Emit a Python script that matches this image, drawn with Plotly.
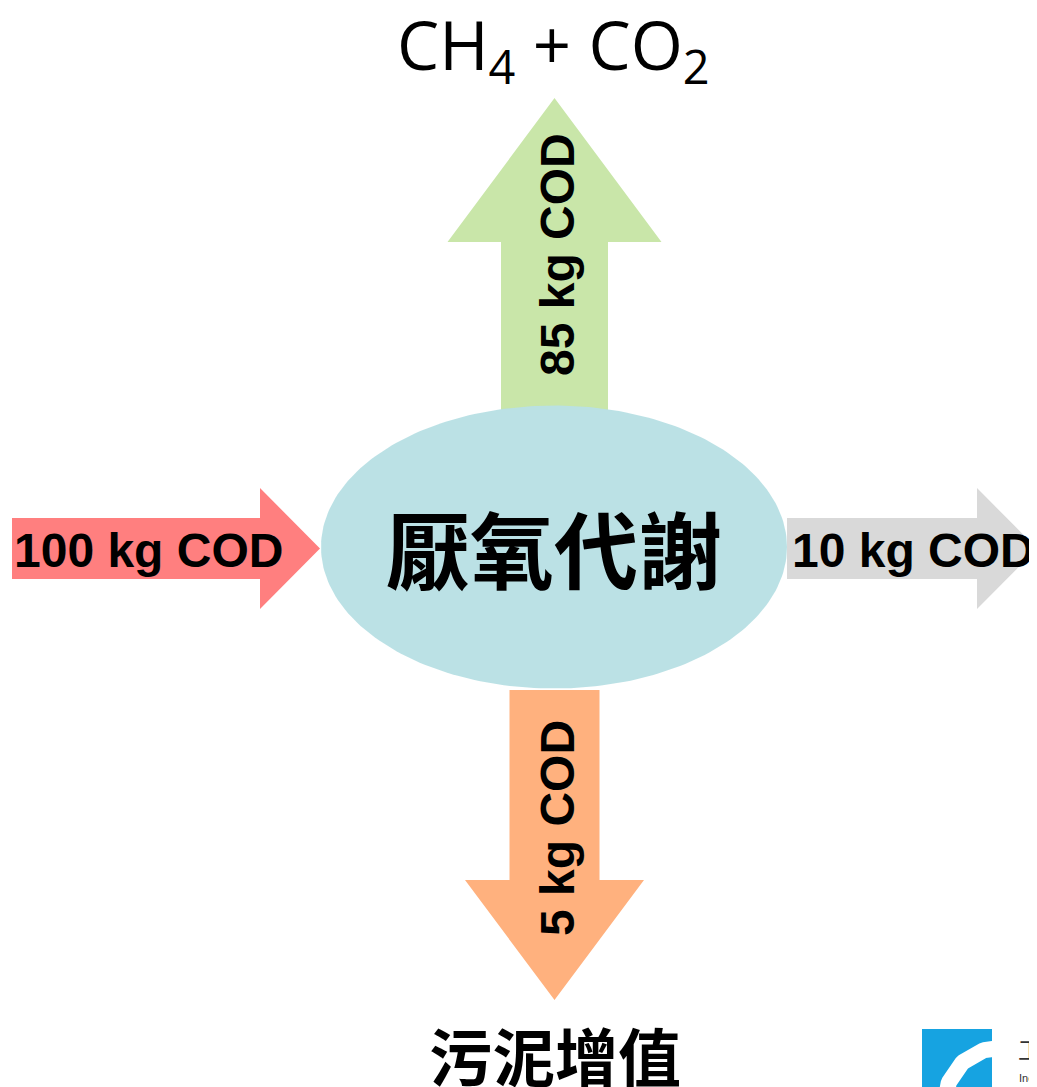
import numpy as np
import plotly.graph_objects as go

# ---- data ----
flow_labels = ["100 kg COD", "85 kg COD", "10 kg COD", "5 kg COD"]
flow_values = [100, 85, 10, 5]
flow_colors = ["#FF7F7F", "#C9E6A9", "#D9D9D9", "#FFB17E"]
center_label = "厭氧代謝"
top_label = "CH<sub>4</sub> + CO<sub>2</sub>"
bottom_label = "污泥增值"

W, H = 1037, 1087
OFF = 8  # page body margin
fig = go.Figure()


def arrow(direction, base, tip, cross, shaft_w, head_w, head_len):
    """Build arrow polygon in page-pixel coordinates."""
    if direction in ("right", "left"):
        s = 1 if direction == "right" else -1
        hb = tip - s * head_len
        xs = [base, hb, hb, tip, hb, hb, base, base]
        ys = [cross - shaft_w / 2, cross - shaft_w / 2, cross - head_w / 2, cross,
              cross + head_w / 2, cross + shaft_w / 2, cross + shaft_w / 2, cross - shaft_w / 2]
    else:
        s = 1 if direction == "down" else -1
        hb = tip - s * head_len
        ys = [base, hb, hb, tip, hb, hb, base, base]
        xs = [cross - shaft_w / 2, cross - shaft_w / 2, cross - head_w / 2, cross,
              cross + head_w / 2, cross + shaft_w / 2, cross + shaft_w / 2, cross - shaft_w / 2]
    return xs, ys


arrow_specs = [
    ("right", 12, 320, 548.5, 61, 121, 60),
    ("up", 410, 98, 554.5, 107, 214, 144),
    ("right", 787, 1037, 548.5, 61, 121, 60),
    ("down", 690, 1000, 554.5, 90, 179, 120),
]
for (d, b, t, c, sw, hw, hl), col in zip(arrow_specs, flow_colors):
    xs, ys = arrow(d, b, t, c, sw, hw, hl)
    fig.add_trace(go.Scatter(x=xs, y=ys, fill="toself", fillcolor=col, mode="lines",
                             line=dict(width=0, color=col), hoverinfo="skip", showlegend=False))

# ellipse
th = np.linspace(0, 2 * np.pi, 240)
fig.add_trace(go.Scatter(x=554 + 233 * np.cos(th), y=547 + 141.5 * np.sin(th), fill="toself",
                         fillcolor="rgba(185,224,228,0.97)", mode="lines",
                         line=dict(width=0, color="#B9E0E4"), hoverinfo="skip", showlegend=False))

# logo (bottom right)
fig.add_trace(go.Scatter(x=[922, 992, 992, 922, 922], y=[1029, 1029, 1095, 1095, 1029],
                         fill="toself", fillcolor="#16A3E1", mode="lines",
                         line=dict(width=0, color="#16A3E1"), hoverinfo="skip", showlegend=False))
ang = np.linspace(np.pi * 1.0, np.pi * 1.5, 40)
arc_x = 1000 + 55 * np.cos(ang)
arc_y = 1103 + 55 * np.sin(ang)
fig.add_trace(go.Scatter(x=arc_x, y=arc_y, mode="lines",
                         line=dict(color="white", width=16), hoverinfo="skip", showlegend=False))
fig.add_trace(go.Scatter(x=[992, 1010, 1010, 992, 992], y=[1025, 1025, 1095, 1095, 1025],
                         fill="toself", fillcolor="white", mode="lines",
                         line=dict(width=0, color="white"), hoverinfo="skip", showlegend=False))
fig.add_annotation(x=1016, y=1048, text="工", showarrow=False, xanchor="left",
                   font=dict(family="Noto Sans CJK TC", size=24, color="#333333"))
fig.add_annotation(x=1017, y=1078, text="Inc", showarrow=False, xanchor="left",
                   font=dict(family="Liberation Sans", size=11, color="#333333"))

# arrow labels
lab_font = dict(family="Liberation Sans", size=48, color="black", weight="bold")
fig.add_annotation(x=148, y=550, text=flow_labels[0], showarrow=False, font=lab_font)
fig.add_annotation(x=557, y=255, text=flow_labels[1], showarrow=False, textangle=-90, font=lab_font)
fig.add_annotation(x=913, y=550, text=flow_labels[2], showarrow=False, font=lab_font)
fig.add_annotation(x=557, y=828, text=flow_labels[3], showarrow=False, textangle=-90, font=lab_font)

# center / top / bottom labels
fig.add_annotation(x=554, y=546, text=center_label, showarrow=False,
                   font=dict(family="Noto Sans CJK TC", size=84, color="black", weight="bold"))
fig.add_annotation(x=553, y=48, text=top_label, showarrow=False,
                   font=dict(family="Open Sans", size=67, color="black"))
fig.add_annotation(x=555, y=1053, text=bottom_label, showarrow=False,
                   font=dict(family="Noto Sans CJK TC", size=63, color="black", weight="bold"))

fig.update_xaxes(range=[OFF, OFF + W], visible=False, fixedrange=True)
fig.update_yaxes(range=[OFF + H, OFF], visible=False, fixedrange=True)
fig.update_layout(width=W, height=H, margin=dict(l=0, r=0, t=0, b=0),
                  plot_bgcolor="white", paper_bgcolor="white")
fig.write_html("out.html")
